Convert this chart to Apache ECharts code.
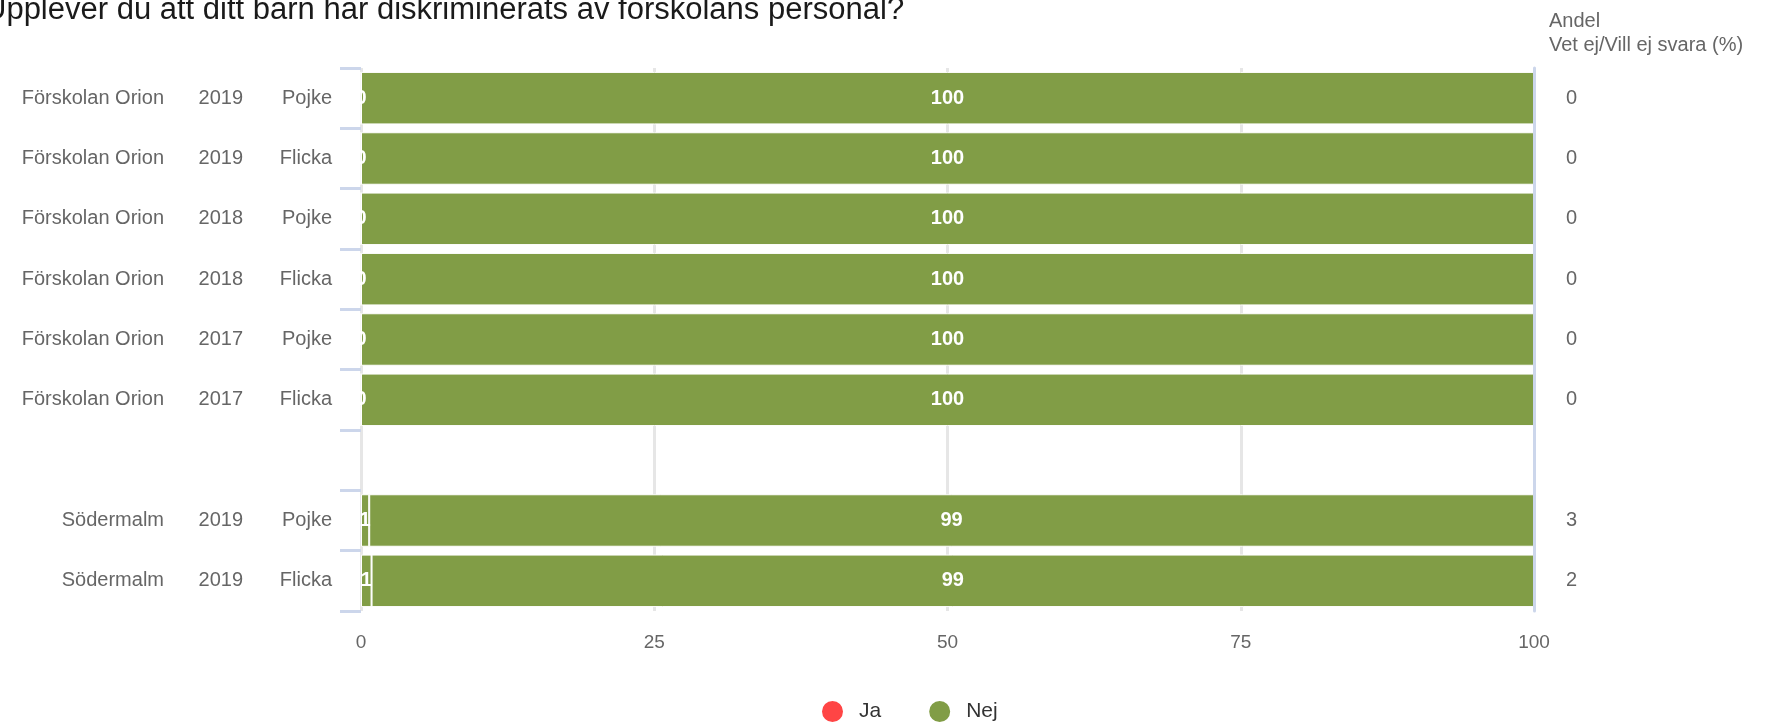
<!DOCTYPE html>
<html>
<head>
<meta charset="utf-8">
<script src="https://cdn.jsdelivr.net/npm/echarts@6/dist/echarts.min.js"></script>
<style>
html,body{margin:0;padding:0;background:#fff;}
#chart{width:1787px;height:723px;}
</style>
</head>
<body>
<div id="chart"></div>
<script>
// ---- data ----
const titleText = 'Upplever du att ditt barn har diskriminerats av förskolans personal?';
const schools = ['Förskolan Orion','Förskolan Orion','Förskolan Orion','Förskolan Orion','Förskolan Orion','Förskolan Orion','','Södermalm','Södermalm'];
const years   = ['2019','2019','2018','2018','2017','2017','','2019','2019'];
const genders = ['Pojke','Flicka','Pojke','Flicka','Pojke','Flicka','','Pojke','Flicka'];
const ja  = [0,0,0,0,0,0,null,0.7,0.9];
const nej = [100,100,100,100,100,100,null,99.3,99.1];
const vetEj = ['0','0','0','0','0','0','','3','2'];
const xTicks = [0,25,50,75,100];
const rightHeader = ['Andel','Vet ej/Vill ej svara (%)'];
const seriesNames = ['Ja','Nej'];

const categories = schools.map((s,i)=> s + '|' + years[i] + '|' + genders[i]);

const FONT = '"Liberation Sans", Arial, sans-serif';
const GREEN = '#819d46';
const RED = '#ff4545';
const chart = echarts.init(document.getElementById('chart'));

const labelStyle = {
  show: true, position: 'inside', color: '#fff', fontWeight: 'bold',
  fontSize: 20, fontFamily: FONT,
  formatter: p => (p.value == null ? '' : String(Math.round(p.value)))
};

chart.setOption({
  animation: false,
  textStyle: { fontFamily: FONT },
  grid: { left: 361, right: 253, top: 68, bottom: 112 },
  graphic: [
    { type: 'text', left: -16, top: -5,
      style: { text: titleText, font: '31px ' + FONT, fill: '#1a1a1a' } },
    { type: 'text', left: 1549, top: 11,
      style: { text: rightHeader[0], font: '20px ' + FONT, fill: '#666' } },
    { type: 'text', left: 1549, top: 35,
      style: { text: rightHeader[1], font: '20px ' + FONT, fill: '#666' } }
  ],
  legend: {
    data: [
      { name: seriesNames[0], itemStyle: { color: RED } },
      { name: seriesNames[1], itemStyle: { color: GREEN } }
    ],
    left: 815, top: 694,
    icon: 'circle', itemWidth: 23, itemHeight: 23, itemGap: 46,
    textStyle: { fontSize: 21, color: '#333', fontFamily: FONT, padding: [0,0,0,10] }
  },
  xAxis: {
    type: 'value', min: xTicks[0], max: xTicks[xTicks.length-1], interval: 25,
    axisLine: { show: false }, axisTick: { show: false },
    splitLine: { lineStyle: { color: '#e6e6e6', width: 3 } },
    axisLabel: { fontSize: 19, color: '#666', margin: 22, fontFamily: FONT }
  },
  yAxis: [
    {
      type: 'category', data: categories, inverse: true,
      axisLine: { show: false },
      axisTick: { show: true, length: 21, lineStyle: { color: '#ccd6eb', width: 3 } },
      axisLabel: {
        margin: 29, fontSize: 20, color: '#666', fontFamily: FONT,
        formatter: (v, i) => schools[i] ? `{a|${schools[i]}}{b|${years[i]}}{c|${genders[i]}}` : '',
        rich: {
          a: { width: 164, align: 'right', fontSize: 20, color: '#666', fontFamily: FONT },
          b: { width: 79, align: 'right', fontSize: 20, color: '#666', fontFamily: FONT },
          c: { width: 89, align: 'right', fontSize: 20, color: '#666', fontFamily: FONT }
        }
      }
    },
    {
      type: 'category', data: categories, inverse: true, position: 'right', z: 5,
      axisLine: { show: true, lineStyle: { color: '#ccd6eb', width: 3 } },
      axisTick: { show: false },
      axisLabel: { margin: 32, fontSize: 20, color: '#666', fontFamily: FONT,
        formatter: (v, i) => vetEj[i] }
    }
  ],
  series: [
    { name: seriesNames[0], type: 'bar', stack: 'a', data: ja, barCategoryGap: '13%',
      itemStyle: { color: GREEN, borderColor: '#fff', borderWidth: 1 }, label: labelStyle },
    { name: seriesNames[1], type: 'bar', stack: 'a', data: nej, barCategoryGap: '13%',
      itemStyle: { color: GREEN, borderColor: '#fff', borderWidth: 1 }, label: labelStyle }
  ]
});
</script>
</body>
</html>
